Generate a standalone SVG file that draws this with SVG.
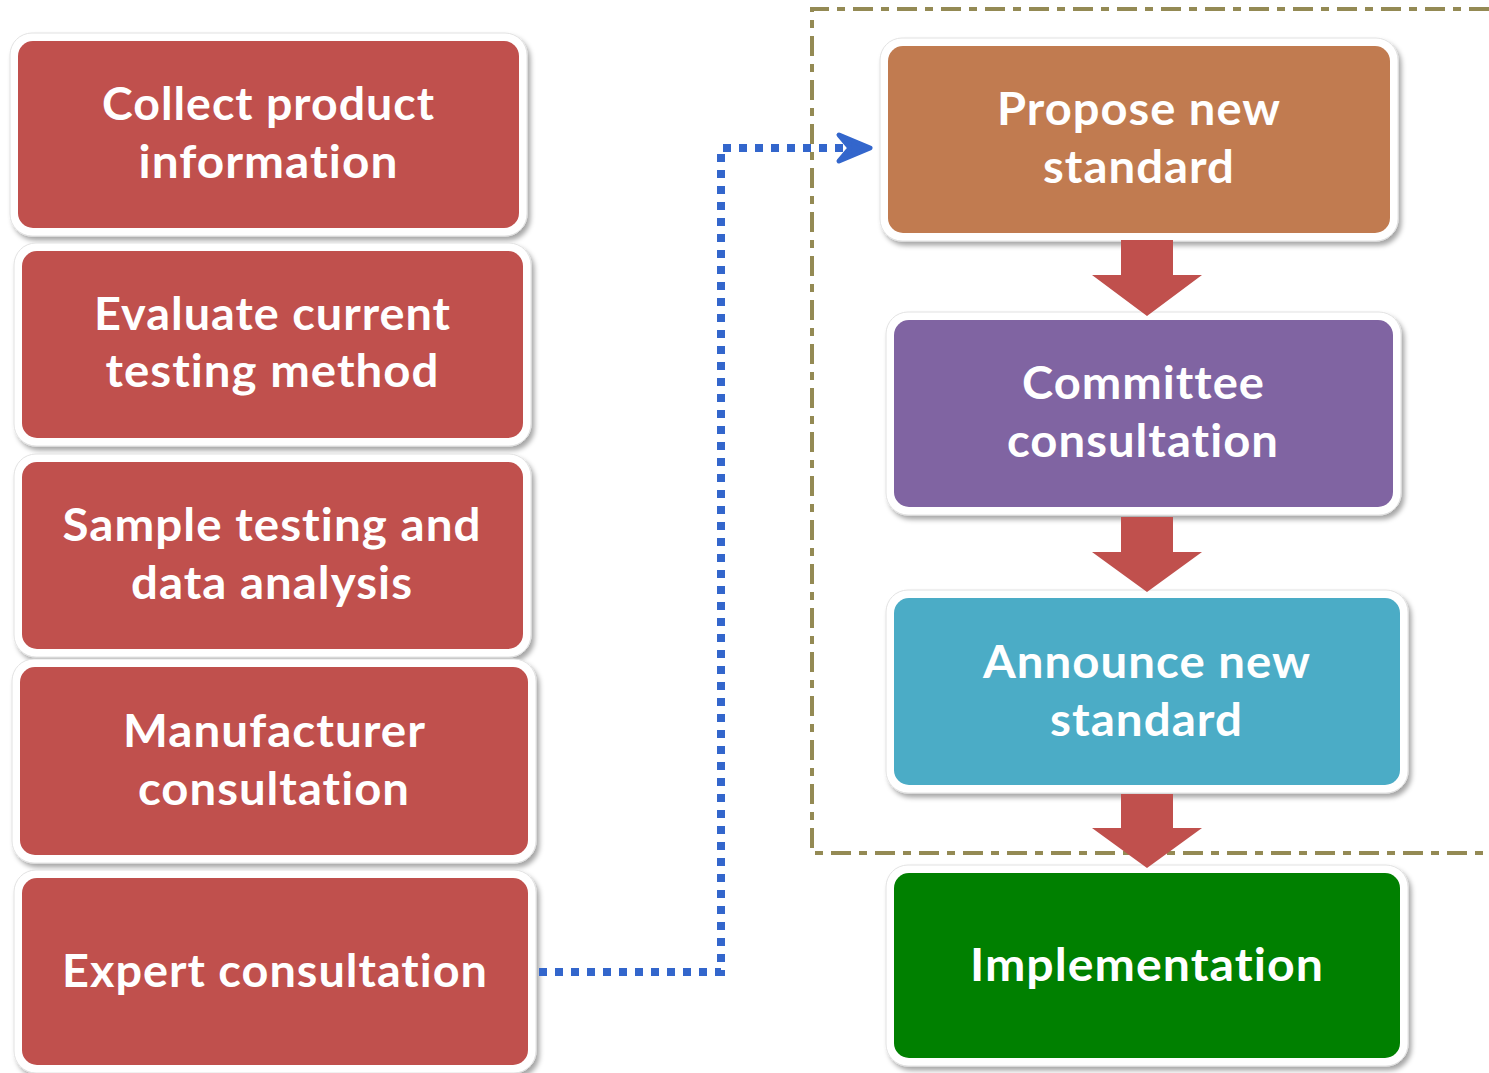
<svg xmlns="http://www.w3.org/2000/svg" width="1489" height="1073" viewBox="0 0 1489 1073">
  <defs>
    <filter id="shadow" x="-5%" y="-5%" width="112%" height="115%">
      <feDropShadow dx="3" dy="4" stdDeviation="2.5" flood-color="#000" flood-opacity="0.35"/>
    </filter>
  </defs>
  <style>
    .frame { fill: #fff; stroke: #e2e2e2; stroke-width: 1; filter: url(#shadow); }
    .red { fill: #C0504D; }
    .orange { fill: #C17B50; }
    .purple { fill: #8064A2; }
    .cyan { fill: #4BACC6; }
    .green { fill: #008000; }
    .label { font-family: Lato, "Open Sans", "Liberation Sans", sans-serif; font-weight: 700; font-size: 46px; fill: #fff; text-anchor: middle; letter-spacing: 1px; font-variant-ligatures: none; font-feature-settings: "liga" 0, "clig" 0; }
    .group-border { fill: none; stroke: #948A54; stroke-width: 4; stroke-dasharray: 20 8 8 8; }
    .flow { fill: #C0504D; }
    .link { fill: none; stroke: #3366CC; stroke-width: 8; stroke-dasharray: 8 8; }
    .link-head { fill: #3366CC; stroke: #3366CC; stroke-width: 5; stroke-linejoin: round; stroke-linecap: round; }
  </style>

  <!-- dashed grouping frame around the standard-setting steps -->
  <path class="group-border" d="M1489,9 L812,9 L812,853 L1489,853"/>

  <!-- left column: preparation steps -->
  <g id="collect-info">
    <rect class="frame" x="10" y="33" width="517" height="203" rx="22"/>
    <rect class="red" x="18" y="41" width="501" height="187" rx="15"/>
    <text class="label" x="268.5" y="120" textLength="333" lengthAdjust="spacingAndGlyphs">Collect product</text>
    <text class="label" x="268.5" y="178" textLength="260" lengthAdjust="spacingAndGlyphs">information</text>
  </g>
  <g id="evaluate-method">
    <rect class="frame" x="14" y="243" width="517" height="203" rx="22"/>
    <rect class="red" x="22" y="251" width="501" height="187" rx="15"/>
    <text class="label" x="272.5" y="330" textLength="357" lengthAdjust="spacingAndGlyphs">Evaluate current</text>
    <text class="label" x="272.5" y="387" textLength="334" lengthAdjust="spacingAndGlyphs">testing method</text>
  </g>
  <g id="sample-testing">
    <rect class="frame" x="14" y="454" width="517" height="203" rx="22"/>
    <rect class="red" x="22" y="462" width="501" height="187" rx="15"/>
    <text class="label" x="272" y="541" textLength="419" lengthAdjust="spacingAndGlyphs">Sample testing and</text>
    <text class="label" x="272" y="599" textLength="282" lengthAdjust="spacingAndGlyphs">data analysis</text>
  </g>
  <g id="manufacturer-consultation">
    <rect class="frame" x="12" y="659" width="524" height="204" rx="22"/>
    <rect class="red" x="20" y="667" width="508" height="188" rx="15"/>
    <text class="label" x="274.5" y="747" textLength="303" lengthAdjust="spacingAndGlyphs">Manufacturer</text>
    <text class="label" x="274" y="805" textLength="272" lengthAdjust="spacingAndGlyphs">consultation</text>
  </g>
  <g id="expert-consultation">
    <rect class="frame" x="14" y="870" width="522" height="203" rx="22"/>
    <rect class="red" x="22" y="878" width="506" height="187" rx="15"/>
    <text class="label" x="275" y="987" textLength="426" lengthAdjust="spacingAndGlyphs">Expert consultation</text>
  </g>

  <!-- right column: standard-setting steps -->
  <g id="propose-standard">
    <rect class="frame" x="880" y="38" width="518" height="203" rx="22"/>
    <rect class="orange" x="888" y="46" width="502" height="187" rx="15"/>
    <text class="label" x="1139" y="125" textLength="284" lengthAdjust="spacingAndGlyphs">Propose new</text>
    <text class="label" x="1139" y="183" textLength="192" lengthAdjust="spacingAndGlyphs">standard</text>
  </g>
  <g id="committee-consultation">
    <rect class="frame" x="886" y="312" width="515" height="203" rx="22"/>
    <rect class="purple" x="894" y="320" width="499" height="187" rx="15"/>
    <text class="label" x="1143.5" y="399" textLength="243" lengthAdjust="spacingAndGlyphs">Committee</text>
    <text class="label" x="1143" y="457" textLength="272" lengthAdjust="spacingAndGlyphs">consultation</text>
  </g>
  <g id="announce-standard">
    <rect class="frame" x="886" y="590" width="522" height="203" rx="22"/>
    <rect class="cyan" x="894" y="598" width="506" height="187" rx="15"/>
    <text class="label" x="1147" y="678" textLength="328" lengthAdjust="spacingAndGlyphs">Announce new</text>
    <text class="label" x="1146.5" y="736" textLength="193" lengthAdjust="spacingAndGlyphs">standard</text>
  </g>
  <g id="implementation">
    <rect class="frame" x="886" y="865" width="522" height="201" rx="22"/>
    <rect class="green" x="894" y="873" width="506" height="185" rx="15"/>
    <text class="label" x="1147" y="981" textLength="354" lengthAdjust="spacingAndGlyphs">Implementation</text>
  </g>

  <!-- connectors -->
  <g id="connectors">
    <path class="flow" d="M1121,240 H1173 V275 H1202 L1147,316 L1092,275 H1121 Z"/>
    <path class="flow" d="M1121,517 H1173 V552 H1202 L1147,592 L1092,552 H1121 Z"/>
    <path class="flow" d="M1121,794 H1173 V828 H1202 L1147,868 L1092,828 H1121 Z"/>
    <path class="link" d="M539,972 H721 V148 H846"/>
    <path class="link-head" d="M839,135 L870,148 L839,161 L850,148 Z"/>
  </g>
</svg>
